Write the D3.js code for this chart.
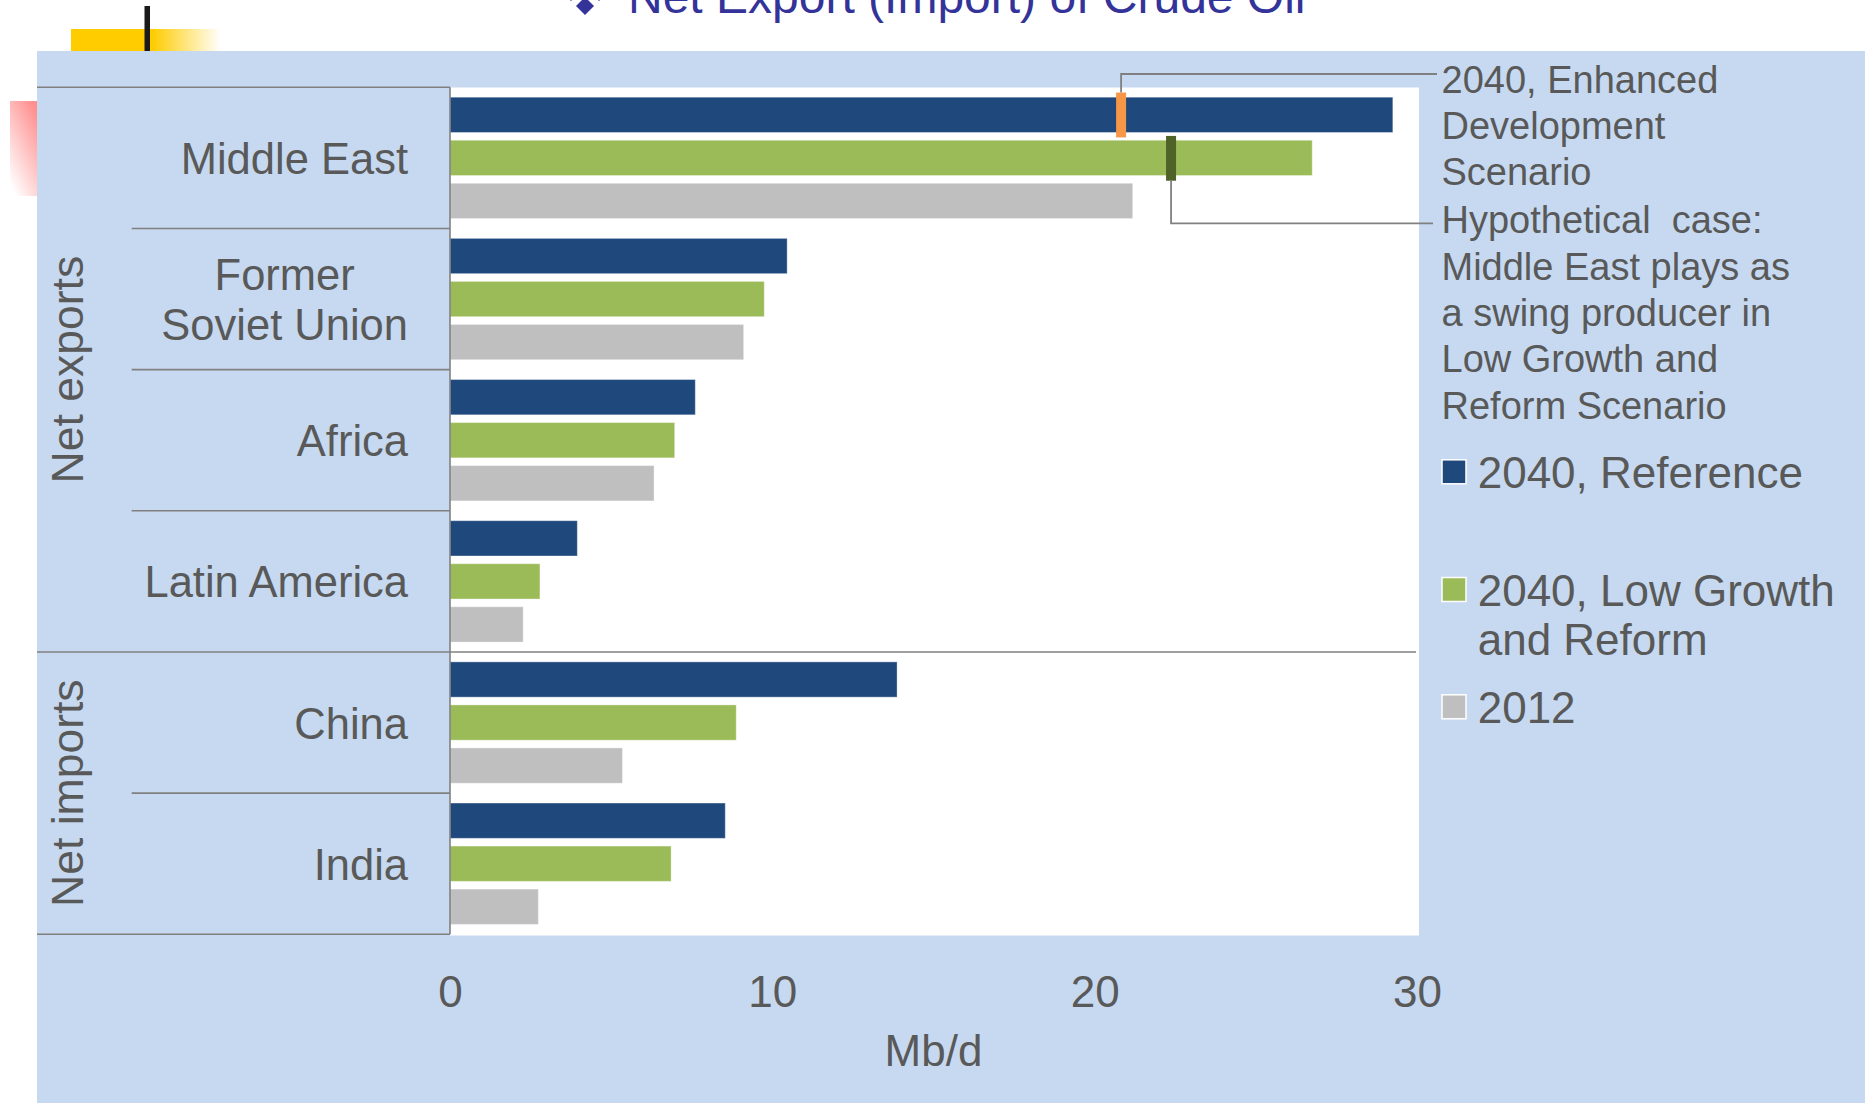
<!DOCTYPE html>
<html><head><meta charset="utf-8">
<script src="https://cdn.jsdelivr.net/npm/d3@7"></script>
<style>
html,body{margin:0;padding:0;background:#fff;overflow:hidden;}
svg{display:block;}
text{font-family:"Liberation Sans", Arial, sans-serif;}
</style></head><body>
<svg id="chart" width="1865" height="1103"></svg>
<script>
// ---------- data ----------
const title = "Net Export (Import) of Crude Oil";
const categories = ["Middle East", "Former\nSoviet Union", "Africa", "Latin America", "China", "India"];
const seriesNames = ["2040, Reference", "2040, Low Growth\nand Reform", "2012"];
const ref2040 = [29.25, 10.46, 7.61, 3.95, 13.87, 8.54];
const lowGrowth2040 = [26.75, 9.75, 6.97, 2.79, 8.88, 6.86];
const actual2012 = [21.18, 9.11, 6.33, 2.27, 5.35, 2.74];
const groupNames = ["Net exports", "Net imports"];
const groupFirst = ["Middle East", "China"];
const groupLast = ["Latin America", "India"];
const xTicks = [0, 10, 20, 30];
const xTitle = "Mb/d";
const markerCategory = "Middle East";
const enhancedDevValue = 20.82;   // marker on "2040, Reference" bar
const swingProducerValue = 22.37; // marker on "2040, Low Growth and Reform" bar
const annotationEnhanced = ["2040, Enhanced", "Development", "Scenario"];
const annotationSwing = ["Hypothetical  case:", "Middle East plays as", "a swing producer in", "Low Growth and", "Reform Scenario"];

// ---------- styles ----------
const seriesColors = ["#1F497D", "#9BBB59", "#BFBFBF"];
const textColor = "#595959";
const lineColor = "#808080";
const panelColor = "#C6D9F0";

const svg = d3.select("#chart");
const defs = svg.append("defs");

// decorations
const gY = defs.append("linearGradient").attr("id", "gy").attr("x1", 0).attr("x2", 1).attr("y1", 0).attr("y2", 0);
gY.append("stop").attr("offset", "0").attr("stop-color", "#FFCC00");
gY.append("stop").attr("offset", "0.54").attr("stop-color", "#FFCC00");
gY.append("stop").attr("offset", "1").attr("stop-color", "#FFFFFF");
const gP = defs.append("linearGradient").attr("id", "gp").attr("x1", 0.8).attr("x2", 0.2).attr("y1", 0).attr("y2", 1);
gP.append("stop").attr("offset", "0").attr("stop-color", "#FF9090");
gP.append("stop").attr("offset", "1").attr("stop-color", "#FFFFFF");

svg.append("rect").attr("x", 71).attr("y", 29).attr("width", 150).attr("height", 22).attr("fill", "url(#gy)");
svg.append("rect").attr("x", 144.5).attr("y", 6).attr("width", 5.5).attr("height", 45).attr("fill", "#1a1a1a");
svg.append("rect").attr("x", 10).attr("y", 101).attr("width", 27).attr("height", 95).attr("fill", "url(#gp)");

// title
const tg = svg.append("g").attr("fill", "#333399");
[[585, 6, 9], [571, -8, 9], [599, -8, 9]].forEach(([cx, cy, r]) => {
  tg.append("path").attr("d", `M${cx},${cy - r}L${cx + r},${cy}L${cx},${cy + r}L${cx - r},${cy}Z`);
});
tg.append("text").attr("x", 628).attr("y", 13).attr("font-size", 48).text(title);

// panel
svg.append("rect").attr("x", 37).attr("y", 51).attr("width", 1828).attr("height", 1052).attr("fill", panelColor);

// scales
const plotTop = 87.3, plotBottom = 934.3;
const x = d3.scaleLinear().domain([0, 30]).range([450, 1417]);
const y = d3.scaleBand().domain(categories).range([plotTop, plotBottom]).padding(0);
const ySub = d3.scaleBand().domain(seriesNames).range([0, y.bandwidth()]).paddingInner(0.18).paddingOuter(0.23);

// plot area
svg.append("rect").attr("x", 450).attr("y", 87.5).attr("width", 969).attr("height", 848).attr("fill", "#fff");

// bars
const seriesValues = [ref2040, lowGrowth2040, actual2012];
seriesNames.forEach((s, si) => {
  svg.append("g").selectAll("rect").data(categories).join("rect")
    .attr("x", x(0))
    .attr("y", c => y(c) + ySub(s))
    .attr("width", (c, i) => x(seriesValues[si][i]) - x(0))
    .attr("height", ySub.bandwidth())
    .attr("fill", seriesColors[si])
    .attr("stroke", "#ffffff").attr("stroke-opacity", 0.35).attr("stroke-width", 1);
});

// markers
const mTop1 = y(markerCategory) + ySub(seriesNames[0]) - 4.6;
const mTop2 = y(markerCategory) + ySub(seriesNames[1]) - 4.3;
const mH = ySub.bandwidth() + 9.5;
svg.append("rect").attr("x", x(enhancedDevValue) - 5).attr("y", mTop1).attr("width", 10).attr("height", mH).attr("fill", "#F79646");
svg.append("rect").attr("x", x(swingProducerValue) - 5).attr("y", mTop2).attr("width", 10).attr("height", mH).attr("fill", "#4F6228");

// leader lines
svg.append("path").attr("fill", "none").attr("stroke", lineColor).attr("stroke-width", 1.8)
  .attr("d", `M${x(enhancedDevValue)},${mTop1}V74H1437`);
svg.append("path").attr("fill", "none").attr("stroke", lineColor).attr("stroke-width", 1.8)
  .attr("d", `M${x(swingProducerValue)},${mTop2 + mH}V223.3H1433`);

// annotations
const ann = svg.append("g").attr("fill", textColor).attr("font-size", 38);
annotationEnhanced.forEach((t, i) => ann.append("text").attr("x", 1441.5).attr("y", 92.7 + i * 46.3).attr("xml:space", "preserve").style("white-space", "pre").text(t));
annotationSwing.forEach((t, i) => ann.append("text").attr("x", 1441.5).attr("y", 233.3 + i * 46.3).style("white-space", "pre").text(t));

// table lines
const lines = svg.append("g").attr("stroke", lineColor).attr("stroke-width", 1.6);
lines.append("line").attr("x1", 37).attr("x2", 450).attr("y1", plotTop).attr("y2", plotTop);
lines.append("line").attr("x1", 37).attr("x2", 450).attr("y1", plotBottom).attr("y2", plotBottom);
categories.forEach(c => {
  if (c === categories[0]) return;
  if (groupFirst.includes(c)) {
    lines.append("line").attr("x1", 37).attr("x2", 1416).attr("y1", y(c)).attr("y2", y(c));
  } else {
    lines.append("line").attr("x1", 131.7).attr("x2", 450).attr("y1", y(c)).attr("y2", y(c));
  }
});
lines.append("line").attr("x1", 450).attr("x2", 450).attr("y1", plotTop).attr("y2", plotBottom);

// category labels
const labG = svg.append("g").attr("fill", textColor).attr("font-size", 43.5);
categories.forEach(c => {
  const parts = c.split("\n");
  const cy = y(c) + y.bandwidth() / 2;
  const t = labG.append("text").attr("text-anchor", "middle");
  const tsp = parts.map((p, i) => t.append("tspan").attr("y", cy + 16 + (i - (parts.length - 1) / 2) * 50).text(p));
  const widths = tsp.map(s => s.node().getComputedTextLength());
  const maxW = d3.max(widths);
  tsp.forEach(s => s.attr("x", 408 - maxW / 2));
});

// group labels
groupNames.forEach((g, i) => {
  const cy = (y(groupFirst[i]) + y(groupLast[i]) + y.bandwidth()) / 2;
  svg.append("text").attr("transform", `translate(83,${cy}) rotate(-90)`)
    .attr("text-anchor", "middle").attr("fill", textColor).attr("font-size", 44.5).text(g);
});

// x axis
const ax = svg.append("g").attr("transform", `translate(0,${plotBottom})`)
  .call(d3.axisBottom(x).tickValues(xTicks).tickSize(0).tickPadding(41).tickFormat(d3.format("d")));
ax.select(".domain").remove();
ax.selectAll("text").attr("fill", textColor).attr("font-size", 44).attr("font-family", '"Liberation Sans", Arial, sans-serif');
svg.append("text").attr("x", (x(0) + x(30)) / 2).attr("y", 1065.7).attr("text-anchor", "middle")
  .attr("fill", textColor).attr("font-size", 44).text(xTitle);

// legend
const leg = svg.append("g").attr("font-size", 44).attr("fill", textColor);
const legBase = [488.3, 606, 723.3];
seriesNames.forEach((s, i) => {
  leg.append("rect").attr("x", 1442).attr("y", legBase[i] - 28.5).attr("width", 24).attr("height", 24)
    .attr("fill", seriesColors[i]).attr("stroke", "#fff").attr("stroke-width", 1.5);
  const t = leg.append("text");
  s.split("\n").forEach((p, j) => t.append("tspan").attr("x", 1477.7).attr("y", legBase[i] + j * 49).text(p));
});
</script>
</body></html>
